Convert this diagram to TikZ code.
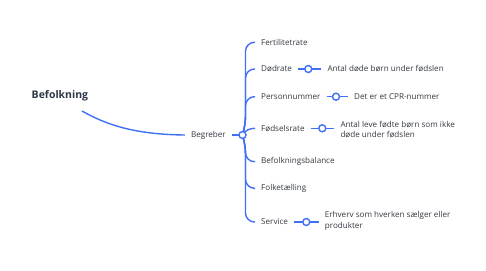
\documentclass[tikz,border=0pt]{standalone}
\usepackage{fontspec}
\setmainfont{Open Sans}
\usetikzlibrary{calc}
\definecolor{lineblue}{RGB}{64,112,246}
\definecolor{txt}{RGB}{51,56,64}
\definecolor{ttl}{RGB}{45,55,68}
\begin{document}
\begin{tikzpicture}[x=1pt,y=-1pt,
  conn/.style={draw=lineblue,line width=1.4pt},
  branch/.style={conn,rounded corners=9pt},
  lbl/.style={anchor=west,inner xsep=6pt,inner ysep=1pt,text=txt,font=\fontsize{8.1}{10.5}\selectfont},
  desc/.style={lbl,align=left},
  knob/.style={circle,draw=lineblue,fill=white,line width=1.4pt,inner sep=0pt,minimum size=7pt}]
\useasboundingbox (0,0) rectangle (486,270);
% nodes
\node[anchor=west,inner sep=0pt,text=ttl,font=\bfseries\fontsize{10.5}{12}\selectfont] (bef) at (31.5,95.5) {Befolkning};
\node[lbl,anchor=east] (beg) at (232,135) {Begreber};
\coordinate (hub) at (242.5,135);
\node[lbl] (fert) at (255,42.3) {Fertilitetrate};
\node[lbl] (dod) at (255,69) {Dødrate};
\node[lbl] (pers) at (255,96.7) {Personnummer};
\node[lbl] (fods) at (255,128.3) {Fødselsrate};
\node[lbl] (bal) at (255,161.7) {Befolkningsbalance};
\node[lbl] (folk) at (255,188.3) {Folketælling};
\node[lbl] (serv) at (255,222) {Service};
\node[lbl] (ant) at (321.3,69) {Antal døde børn under fødslen};
\node[lbl] (cpr) at (348,96.7) {Det er et CPR-nummer};
\node[desc] (fdesc) at (334.3,129.3) {Antal leve fødte børn som ikke\\døde under fødslen};
\node[desc] (sdesc) at (318.7,220.7) {Erhverv som hverken sælger eller\\produkter};
\coordinate (k1) at (308.3,69);
\coordinate (k2) at (336,96.7);
\coordinate (k3) at (322.3,128.3);
\coordinate (k4) at (306.3,222);
\coordinate (bstart) at (82,111);
% connectors
\draw[conn] (bstart) .. controls (110,127) and (140,134.5) .. (beg.west);
\draw[conn] (beg.east) -- (hub);
\draw[branch] (hub) -- ++(3,-10) |- (fert.west);
\draw[branch] (hub) -- ++(3,-10) |- (dod.west);
\draw[branch] (hub) -- ++(3,-10) |- (pers.west);
\draw[conn] (hub) .. controls +(3,-5) and +(-5,0) .. (fods.west);
\draw[branch] (hub) -- ++(3,10) |- (bal.west);
\draw[branch] (hub) -- ++(3,10) |- (folk.west);
\draw[branch] (hub) -- ++(3,10) |- (serv.west);
\draw[conn] (dod.east) -- (ant.west);
\draw[conn] (pers.east) -- (cpr.west);
\draw[conn] (fods.east) -- (fdesc.west |- k3);
\draw[conn] (serv.east) -- (sdesc.west |- k4);
% knobs
\node[knob] at (hub) {};
\node[knob] at (k1) {};
\node[knob] at (k2) {};
\node[knob] at (k3) {};
\node[knob] at (k4) {};
\end{tikzpicture}
\end{document}
